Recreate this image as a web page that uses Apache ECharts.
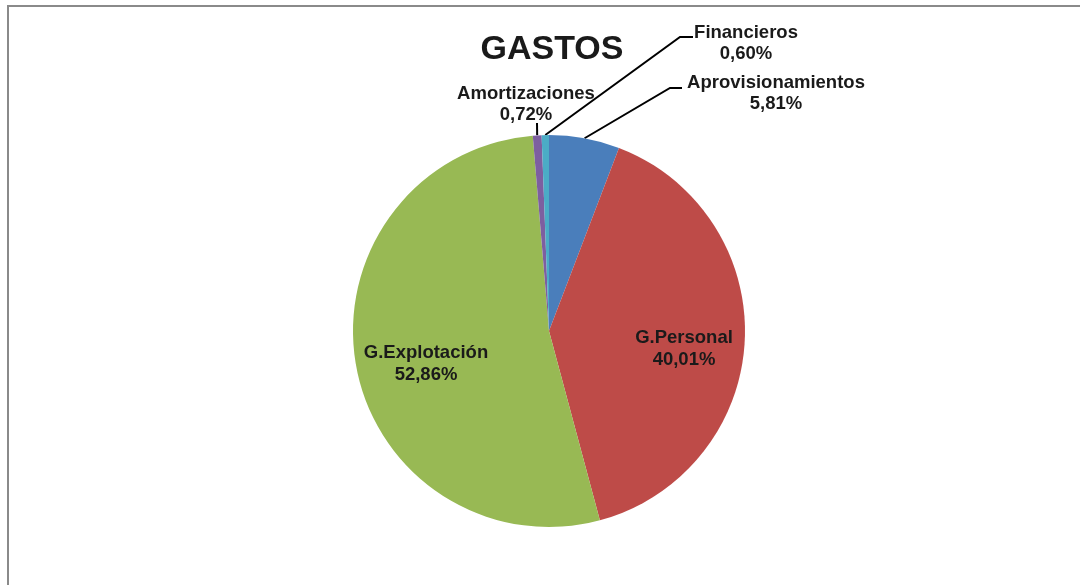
<!DOCTYPE html>
<html>
<head>
<meta charset="utf-8">
<script src="https://cdn.jsdelivr.net/npm/echarts@6/dist/echarts.min.js"></script>
<style>
  html, body { margin: 0; padding: 0; background: #fff; }
  #chart { width: 1080px; height: 585px; }
</style>
</head>
<body>
<div id="chart"></div>
<script>
var categories = ['Aprovisionamientos', 'G.Personal', 'G.Explotación', 'Amortizaciones', 'Financieros'];
var values = [5.81, 40.01, 52.86, 0.72, 0.60];
var colors = ['#4A7EBB', '#BE4B48', '#98B954', '#7D5FA0', '#4BACC6'];

var cx = 549, cy = 331, rad = 196;

// outside labels: centre x, top y, elbow and end of the leader line
var outside = {
  'Financieros':        { x: 746, y: 22, elbow: [680, 37], end: [693, 37] },
  'Aprovisionamientos': { x: 776, y: 72, elbow: [670, 88], end: [682, 88] },
  'Amortizaciones':     { x: 526, y: 83, elbow: null, end: [537, 123] }
};
// inside labels: centre of the text block
var inside = {
  'G.Personal':    [684, 349],
  'G.Explotación': [426, 364]
};

function fmt(v) {
  return v.toFixed(2).replace('.', ',') + '%';
}

var chartDom = document.getElementById('chart');
var myChart = echarts.init(chartDom);

var option = {
  animation: false,
  title: {
    text: 'GASTOS',
    left: 547,
    top: 28,
    textAlign: 'center',
    textStyle: {
      fontFamily: 'Liberation Sans, Arial, sans-serif',
      fontSize: 34,
      fontWeight: 'bold',
      color: '#1a1a1a'
    }
  },
  graphic: [{
    type: 'rect',
    shape: { x: 8, y: 6, width: 1200, height: 700 },
    style: { fill: 'none', stroke: '#8a8a8a', lineWidth: 2 },
    silent: true
  }],
  series: [{
    type: 'pie',
    center: [cx, cy],
    radius: rad,
    startAngle: 90,
    clockwise: true,
    avoidLabelOverlap: false,
    data: categories.map(function (c, i) {
      var d = { name: c, value: values[i], itemStyle: { color: colors[i] } };
      if (inside[c]) {
        d.label = { position: 'inside' };
        d.labelLine = { show: false };
      }
      return d;
    }),
    itemStyle: { borderWidth: 0 },
    label: {
      show: true,
      position: 'outside',
      formatter: function (p) { return p.name + '\n' + fmt(p.value); },
      fontFamily: 'Liberation Sans, Arial, sans-serif',
      fontSize: 18.5,
      fontWeight: 'bold',
      lineHeight: 21.5,
      color: '#1a1a1a',
      align: 'center'
    },
    labelLine: {
      show: true,
      length: 10,
      length2: 10,
      lineStyle: { color: '#000', width: 2 }
    },
    labelLayout: function (p) {
      var name = categories[p.dataIndex];
      var o = outside[name];
      if (o) {
        var start = p.labelLinePoints ? p.labelLinePoints[0] : [cx, cy - rad];
        var pts = o.elbow ? [start, o.elbow, o.end] : [start, o.end, o.end];
        return { x: o.x, y: o.y, align: 'center', verticalAlign: 'top', labelLinePoints: pts };
      }
      var pos = inside[name];
      return { x: pos[0], y: pos[1], align: 'center', verticalAlign: 'middle' };
    }
  }]
};

option && myChart.setOption(option);
</script>
</body>
</html>
